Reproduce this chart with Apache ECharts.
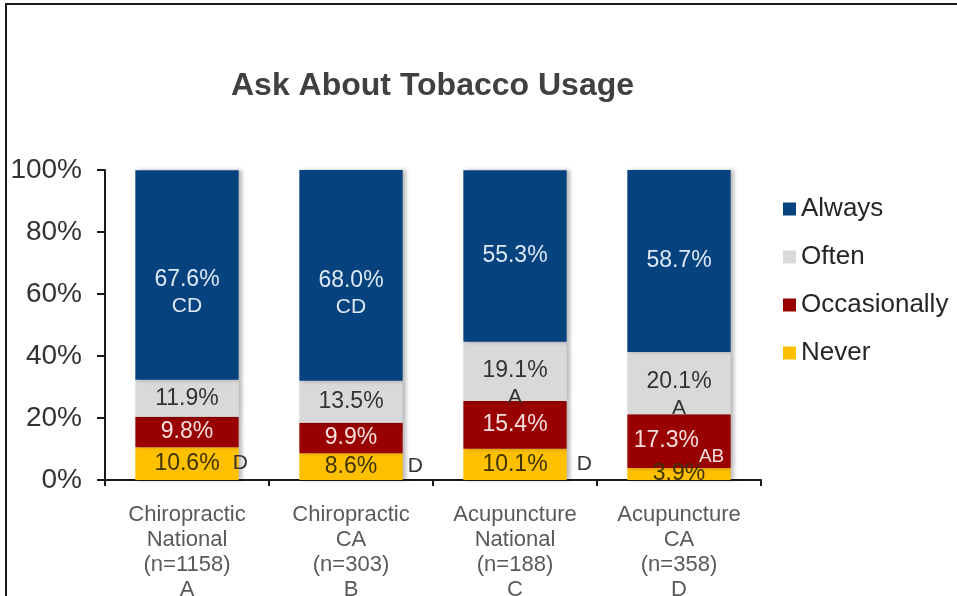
<!DOCTYPE html>
<html>
<head>
<meta charset="utf-8">
<style>
  html, body { margin: 0; padding: 0; background: #fff; }
  #frame { position: absolute; left: 5px; top: 3px; width: 952px; height: 593px; border-left: 2px solid #1a1a1a; border-top: 2px solid #1a1a1a; }
  #main { position: absolute; left: 0; top: 0; width: 957px; height: 596px; }
</style>
<script src="https://cdn.jsdelivr.net/npm/echarts@6/dist/echarts.min.js"></script>
</head>
<body>
<div id="frame"></div>
<div id="main"></div>
<script>
// chart data
const categories = [
  'Chiropractic\nNational\n(n=1158)\nA',
  'Chiropractic\nCA\n(n=303)\nB',
  'Acupuncture\nNational\n(n=188)\nC',
  'Acupuncture\nCA\n(n=358)\nD'
]
const always = [67.6, 68.0, 55.3, 58.7]
const often = [11.9, 13.5, 19.1, 20.1]
const occasionally = [9.8, 9.9, 15.4, 17.3]
const never = [10.6, 8.6, 10.1, 3.9]
// significance letters shown next to the values
const alwaysSig = ['CD', 'CD', '', '']
const oftenSig = ['', '', 'A', 'A']
const occasionallySig = ['', '', '', 'AB']
const neverSig = ['D', 'D', 'D', '']
const yTicks = [0, 20, 40, 60, 80, 100]

const FONT = '"Liberation Sans", Arial, Helvetica, sans-serif'
const shadow = {
  shadowColor: 'rgba(0, 0, 0, 0.28)',
  shadowBlur: 4,
  shadowOffsetX: 3
}

function stackedItems(values, letters, mode, belowOffset) {
  return values.map(function (v, i) {
    const txt = v.toFixed(1) + '%'
    const sig = letters[i]
    const label = {}
    if (!sig) {
      label.formatter = '{v|' + txt + '}'
    } else if (mode === 'below') {
      label.formatter = '{v|' + txt + '}\n{s|' + sig + '}'
      label.offset = [0, belowOffset]
    } else {
      label.formatter = '{v|' + txt + '}{r|' + sig + '}'
    }
    return { value: v, label: label }
  })
}

function makeSeries(name, values, letters, color, textColor, mode, belowOffset) {
  return {
    name: name,
    type: 'bar',
    stack: 'total',
    barWidth: '63%',
    itemStyle: Object.assign({ color: color }, shadow),
    label: {
      show: true,
      position: 'inside',
      fontFamily: FONT,
      rich: {
        v: { fontSize: 23, color: textColor, fontFamily: FONT, lineHeight: 27, verticalAlign: 'middle' },
        s: { fontSize: 21, color: textColor, fontFamily: FONT, lineHeight: 26 },
        r: { fontSize: 19, color: textColor, fontFamily: FONT, lineHeight: 20, padding: [32, 0, 0, 0] }
      }
    },
    data: stackedItems(values, letters, mode, belowOffset)
  }
}

const sigOffsets = [-11, 0, 5, 0]

const chart = echarts.init(document.getElementById('main'), null, { renderer: 'canvas' })
chart.setOption({
  backgroundColor: 'transparent',
  animation: false,
  textStyle: { fontFamily: FONT },
  title: {
    text: 'Ask About Tobacco Usage',
    left: 226,
    top: 65,
    textStyle: { fontSize: 32, fontWeight: 'bold', color: '#404040', fontFamily: FONT }
  },
  legend: {
    data: ['Always', 'Often', 'Occasionally', 'Never'],
    orient: 'vertical',
    left: 778,
    top: 191,
    icon: 'rect',
    itemWidth: 13,
    itemHeight: 13,
    itemGap: 22,
    textStyle: { fontSize: 26, color: '#262626', fontFamily: FONT }
  },
  grid: { left: 105, right: 196, top: 170, bottom: 116, containLabel: false, outerBoundsMode: 'none' },
  xAxis: {
    type: 'category',
    data: categories,
    axisLine: { lineStyle: { color: '#1a1a1a', width: 2 } },
    axisTick: { show: true, length: 6, lineStyle: { color: '#1a1a1a', width: 2 } },
    axisLabel: { fontSize: 22, lineHeight: 25, color: '#595959', margin: 22, fontFamily: FONT }
  },
  yAxis: {
    type: 'value',
    min: yTicks[0],
    max: yTicks[yTicks.length - 1],
    interval: yTicks[1] - yTicks[0],
    splitLine: { show: false },
    axisLine: { show: true, lineStyle: { color: '#1a1a1a', width: 2 } },
    axisTick: { show: true, length: 8, lineStyle: { color: '#1a1a1a', width: 2 } },
    axisLabel: { formatter: '{value}%', fontSize: 28, color: '#333', margin: 23, fontFamily: FONT }
  },
  series: [
    makeSeries('Never', never, ['', '', '', ''], '#ffc000', '#3d3200', 'right'),
    makeSeries('Occasionally', occasionally, occasionallySig, '#990000', '#f6dede', 'right'),
    makeSeries('Often', often, oftenSig, '#d9d9d9', '#333333', 'below', 12),
    makeSeries('Always', always, alwaysSig, '#05427e', '#dde8f4', 'below', 18),
    {
      // letters placed just right of the Never segments
      name: 'sig',
      type: 'bar',
      stack: 'sig',
      barWidth: '63%',
      barGap: '-100%',
      silent: true,
      itemStyle: { color: 'rgba(0,0,0,0)' },
      label: {
        show: true,
        position: 'right',
        fontSize: 21,
        color: '#333',
        fontFamily: FONT
      },
      data: never.map(function (v, i) {
        return {
          value: v,
          label: { show: !!neverSig[i], formatter: neverSig[i] || ' ', offset: [sigOffsets[i], 0] }
        }
      })
    }
  ]
})
</script>
</body>
</html>
